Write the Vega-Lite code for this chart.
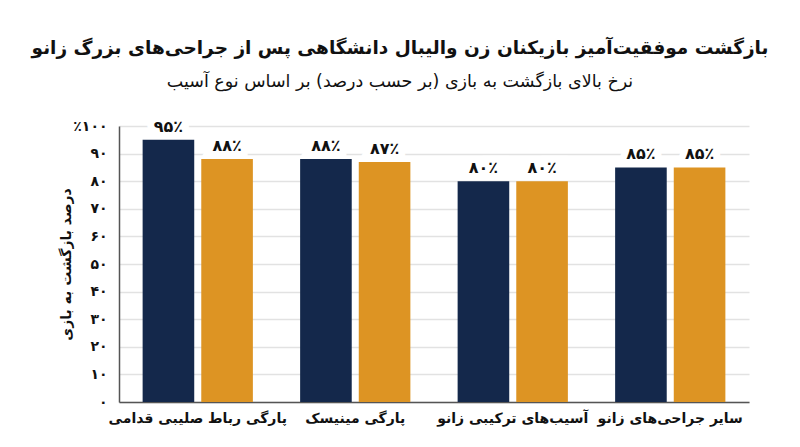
{
  "$schema": "https://vega.github.io/schema/vega-lite/v6.json",
  "width": 630,
  "height": 276,
  "autosize": "none",
  "padding": {"left": 119, "top": 126, "right": 51, "bottom": 45},
  "background": "white",
  "title": {
    "text": "بازگشت موفقیت‌آمیز بازیکنان زن والیبال دانشگاهی پس از جراحی‌های بزرگ زانو",
    "subtitle": "نرخ بالای بازگشت به بازی (بر حسب درصد) بر اساس نوع آسیب",
    "anchor": "middle",
    "dx": -34,
    "offset": 28,
    "font": "DejaVu Sans",
    "fontSize": 18.5,
    "fontWeight": "bold",
    "color": "#111111",
    "subtitleFont": "DejaVu Sans",
    "subtitleFontSize": 17.5,
    "subtitleColor": "#111111",
    "subtitlePadding": 16
  },
  "data": {
    "values": [
      {"injury": "پارگی رباط صلیبی قدامی", "series": "گروه ۱", "rate": 95},
      {"injury": "پارگی رباط صلیبی قدامی", "series": "گروه ۲", "rate": 88},
      {"injury": "پارگی مینیسک", "series": "گروه ۱", "rate": 88},
      {"injury": "پارگی مینیسک", "series": "گروه ۲", "rate": 87},
      {"injury": "آسیب‌های ترکیبی زانو", "series": "گروه ۱", "rate": 80},
      {"injury": "آسیب‌های ترکیبی زانو", "series": "گروه ۲", "rate": 80},
      {"injury": "سایر جراحی‌های زانو", "series": "گروه ۱", "rate": 85},
      {"injury": "سایر جراحی‌های زانو", "series": "گروه ۲", "rate": 85}
    ]
  },
  "transform": [
    {"calculate": "replace(replace(replace(replace(replace(replace(replace(replace(replace(replace(toString(datum.rate), /0/g, '۰'), /1/g, '۱'), /2/g, '۲'), /3/g, '۳'), /4/g, '۴'), /5/g, '۵'), /6/g, '۶'), /7/g, '۷'), /8/g, '۸'), /9/g, '۹') + '٪'", "as": "label"}
  ],
  "encoding": {
    "x": {
      "field": "injury",
      "type": "nominal",
      "sort": null,
      "scale": {"paddingInner": 0.3, "paddingOuter": 0.15},
      "axis": {
        "title": null,
        "labelAngle": 0,
        "labelFont": "DejaVu Sans",
        "labelFontSize": 14,
        "labelFontWeight": "bold",
        "labelColor": "#111111",
        "labelPadding": 9,
        "ticks": false,
        "domainColor": "#555555",
        "domainWidth": 1.5
      }
    },
    "xOffset": {"field": "series", "type": "nominal", "scale": {"paddingInner": 0.12}},
    "y": {
      "field": "rate",
      "type": "quantitative",
      "scale": {"domain": [0, 100]},
      "axis": {
        "values": [0, 10, 20, 30, 40, 50, 60, 70, 80, 90, 100],
        "title": "درصد بازگشت به بازی",
        "titleFont": "DejaVu Sans",
        "titleFontSize": 14,
        "titleFontWeight": "bold",
        "titleColor": "#111111",
        "titleX": -46,
        "titleY": 138,
        "titleAngle": -90,
        "titleBaseline": "bottom",
        "labelExpr": "(datum.value == 100 ? '٪' : '') + replace(replace(replace(replace(replace(replace(replace(replace(replace(replace(toString(datum.value), /0/g, '۰'), /1/g, '۱'), /2/g, '۲'), /3/g, '۳'), /4/g, '۴'), /5/g, '۵'), /6/g, '۶'), /7/g, '۷'), /8/g, '۸'), /9/g, '۹')",
        "labelFont": "DejaVu Sans",
        "labelFontSize": 14,
        "labelFontWeight": "bold",
        "labelColor": "#111111",
        "labelPadding": 12,
        "ticks": false,
        "domainColor": "#555555",
        "domainWidth": 1.5,
        "gridColor": "#e2e2e2",
        "gridWidth": 1.5
      }
    }
  },
  "layer": [
    {
      "mark": {"type": "bar"},
      "encoding": {
        "color": {
          "field": "series",
          "type": "nominal",
          "scale": {"range": ["#14284b", "#dd9423"]},
          "legend": null
        }
      }
    },
    {
      "mark": {"type": "text", "baseline": "alphabetic", "dy": -8, "font": "DejaVu Sans", "fontSize": 16, "fontWeight": "bold", "fill": "white", "stroke": "white", "strokeWidth": 14},
      "encoding": {"text": {"field": "label"}}
    },
    {
      "mark": {"type": "text", "baseline": "alphabetic", "dy": -8, "font": "DejaVu Sans", "fontSize": 16, "fontWeight": "bold", "fill": "#111111"},
      "encoding": {"text": {"field": "label"}}
    }
  ],
  "config": {"view": {"stroke": null}}
}
